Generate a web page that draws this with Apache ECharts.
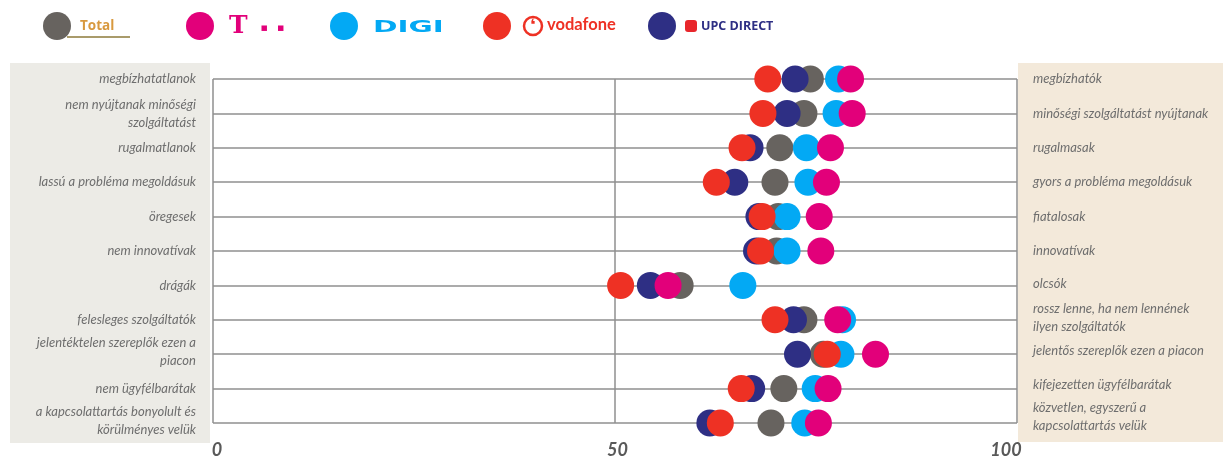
<!DOCTYPE html>
<html>
<head>
<meta charset="utf-8">
<script src="https://cdn.jsdelivr.net/npm/echarts@6/dist/echarts.min.js"></script>
<style>
  html, body { margin: 0; padding: 0; background: #ffffff; }
  #chart { width: 1223px; height: 461px; }
</style>
</head>
<body>
<div id="chart"></div>
<script>
// Negative attribute on the left, its positive counterpart on the right
const leftLabels = [
  'megbízhatatlanok',
  'nem nyújtanak minőségi\nszolgáltatást',
  'rugalmatlanok',
  'lassú a probléma megoldásuk',
  'öregesek',
  'nem innovatívak',
  'drágák',
  'felesleges szolgáltatók',
  'jelentéktelen szereplők ezen a\npiacon',
  'nem ügyfélbarátak',
  'a kapcsolattartás bonyolult és\nkörülményes velük'
];
const rightLabels = [
  'megbízhatók',
  'minőségi szolgáltatást nyújtanak',
  'rugalmasak',
  'gyors a probléma megoldásuk',
  'fiatalosak',
  'innovatívak',
  'olcsók',
  'rossz lenne, ha nem lennének\nilyen szolgáltatók',
  'jelentős szereplők ezen a piacon',
  'kifejezetten ügyfélbarátak',
  'közvetlen, egyszerű a\nkapcsolattartás velük'
];
const xTicks = [0, 50, 100];

// Scores on a 0–100 scale, one per attribute row
const totalValues     = [74.3, 73.5, 70.5, 69.9, 70.3, 70.1, 58.1, 73.5, 75.9, 71.0, 69.4];
const upcValues       = [72.4, 71.4, 66.8, 64.9, 67.9, 67.6, 54.4, 72.2, 72.7, 67.0, 61.8];
const digiValues      = [77.8, 77.5, 73.8, 74.0, 71.4, 71.4, 65.9, 78.3, 78.1, 74.9, 73.6];
const vodafoneValues  = [69.0, 68.4, 65.8, 62.6, 68.3, 68.1, 50.7, 69.9, 76.4, 65.7, 63.1];
const telekomValues   = [79.3, 79.5, 76.8, 76.3, 75.4, 75.6, 56.6, 77.7, 82.4, 76.5, 75.3];

// Drawing order: later series sit on top of earlier ones
const seriesDefs = [
  { name: 'Total',       values: totalValues,    color: '#67635f' },
  { name: 'UPC DIRECT',  values: upcValues,      color: '#2e2f84' },
  { name: 'DIGI',        values: digiValues,     color: '#03a9f4' },
  { name: 'vodafone',    values: vodafoneValues, color: '#ee3124' },
  { name: 'Telekom',     values: telekomValues,  color: '#e2007a' }
];

const chart = echarts.init(document.getElementById('chart'), null, { renderer: 'canvas' });

const labelStyle = {
  fontFamily: 'Lato',
  fontStyle: 'italic',
  fontSize: 13,
  lineHeight: 18,
  color: '#6e6e6e'
};

// Small upward nudges (px) for a few of the side labels
const leftLift  = [0, 0, 0, 0, 0, 0, 0, 0, 2, 0, 2];
const rightLift = [0, 0, 0, 0, 0, 0, 2, 2, 3, 4, 6];
function liftRich(base) {
  const rich = {};
  for (let p = 0; p <= 6; p++) {
    rich['l' + p] = Object.assign({}, base, { padding: [0, 0, p * 2, 0] });
  }
  return rich;
}
function liftFormatter(lifts) {
  return (value, index) => {
    const key = 'l' + lifts[index];
    return value.split('\n').map(line => '{' + key + '|' + line + '}').join('\n');
  };
}

// One legend block per brand so each logo can sit at its own spot
const legendSpecs = [
  { name: 'Total', left: 43,
    fmt: '{a|Total}',
    rich: { a: { color: '#d8993f', fontFamily: 'Open Sans', fontWeight: 'bold', fontSize: 13.5, padding: [0, 0, 0, 4] } } },
  { name: 'Telekom', left: 186,
    fmt: '{t|T}{d|▪}{e|▪}',
    rich: {
      t: { color: '#e2007a', fontFamily: 'DejaVu Serif', fontWeight: 'bold', fontSize: 25, padding: [0, 0, 0, 10] },
      d: { color: '#e2007a', fontFamily: 'DejaVu Sans', fontSize: 11, padding: [5, 0, 0, 13] },
      e: { color: '#e2007a', fontFamily: 'DejaVu Sans', fontSize: 11, padding: [5, 0, 0, 9] }
    } },
  { name: 'DIGI', left: 330,
    fmt: '{g|}',
    rich: { g: { width: 70, height: 14 } } },
  { name: 'vodafone', left: 483,
    fmt: '{sp|}{l|❛}{v|vodafone}',
    rich: {
      sp: { width: 8, height: 10 },
      l: { color: '#ee3124', fontFamily: 'DejaVu Sans', fontWeight: 'bold', fontSize: 16, width: 16, height: 16, align: 'center',
           borderColor: '#ee3124', borderWidth: 2.5, borderRadius: 12, padding: [1, 1, 1, 1], lineHeight: 16 },
      v: { color: '#ee3124', fontFamily: 'Lato', fontWeight: 'bold', fontSize: 16.5, padding: [0, 0, 2, 5] }
    } },
  { name: 'UPC DIRECT', left: 648,
    fmt: '{sp|}{i|}{u|UPC DIRECT}',
    rich: {
      sp: { width: 4, height: 10 },
      i: { backgroundColor: '#e8262b', width: 12, height: 12, borderRadius: 3 },
      u: { color: '#2e2f84', fontFamily: 'Open Sans', fontWeight: 'bold', fontSize: 12.5, padding: [0, 0, 0, 4] }
    } }
];

const axisLabelRich = {
  s: { padding: [0, 0, 0, 8] },
  m: { padding: [0, 0, 0, 5] },
  e: { padding: [0, 22, 0, 0] }
};

const option = {
  backgroundColor: '#ffffff',
  animation: false,
  legend: legendSpecs.map(s => ({
    data: [s.name],
    left: s.left,
    top: 12,
    padding: 0,
    icon: 'circle',
    itemWidth: 28,
    itemHeight: 28,
    selectedMode: false,
    formatter: () => s.fmt,
    textStyle: { rich: s.rich }
  })),
  graphic: [
    { type: 'rect', z: -10, shape: { x: 10, y: 63, width: 200, height: 380 }, style: { fill: '#ecebe6' } },
    { type: 'rect', z: -10, shape: { x: 1018, y: 63, width: 205, height: 379 }, style: { fill: '#f3e9da' } },
    { type: 'line', z: -5, shape: { x1: 67, y1: 37, x2: 130, y2: 37 }, style: { stroke: '#a99b6b', lineWidth: 2 } },
    // wide DIGI wordmark
    { type: 'text', x: 373, y: 28, scaleX: 1.97, scaleY: 1,
      style: { text: 'DIGI', fill: '#03a9f4', font: 'bold 15px "DejaVu Sans"', verticalAlign: 'middle' } }
  ],
  grid: { left: 213, right: 206, top: 79, bottom: 38, containLabel: false },
  xAxis: {
    type: 'value',
    min: 0,
    max: 100,
    interval: 50,
    axisLine: { show: false },
    axisTick: { show: false },
    splitLine: { show: true, lineStyle: { color: '#8f8f8f', width: 1.5 } },
    axisLabel: {
      margin: 18,
      fontFamily: 'Lato',
      fontStyle: 'italic',
      fontWeight: 'bold',
      fontSize: 18,
      color: '#595959',
      formatter: v => (v === xTicks[0] ? '{s|' : v === xTicks[xTicks.length - 1] ? '{e|' : '{m|') + v + '}',
      rich: axisLabelRich
    }
  },
  yAxis: [
    {
      type: 'category',
      data: leftLabels,
      inverse: true,
      boundaryGap: false,
      position: 'left',
      axisLine: { show: false },
      axisTick: { show: false },
      splitLine: { show: true, lineStyle: { color: '#8f8f8f', width: 1.5 } },
      axisLabel: Object.assign({ margin: 17, align: 'right', formatter: liftFormatter(leftLift), rich: liftRich(labelStyle) }, labelStyle)
    },
    {
      type: 'category',
      data: rightLabels,
      inverse: true,
      boundaryGap: false,
      position: 'right',
      axisLine: { show: false },
      axisTick: { show: false },
      splitLine: { show: false },
      axisLabel: Object.assign({ margin: 16, align: 'left', formatter: liftFormatter(rightLift), rich: liftRich(labelStyle) }, labelStyle)
    }
  ],
  series: seriesDefs.map(s => ({
    name: s.name,
    type: 'scatter',
    yAxisIndex: 0,
    symbol: 'circle',
    symbolSize: 27,
    itemStyle: { color: s.color, opacity: 1 },
    emphasis: { disabled: true },
    data: s.values.map((v, i) => [v, leftLabels[i]])
  }))
};

chart.setOption(option);
</script>
</body>
</html>
